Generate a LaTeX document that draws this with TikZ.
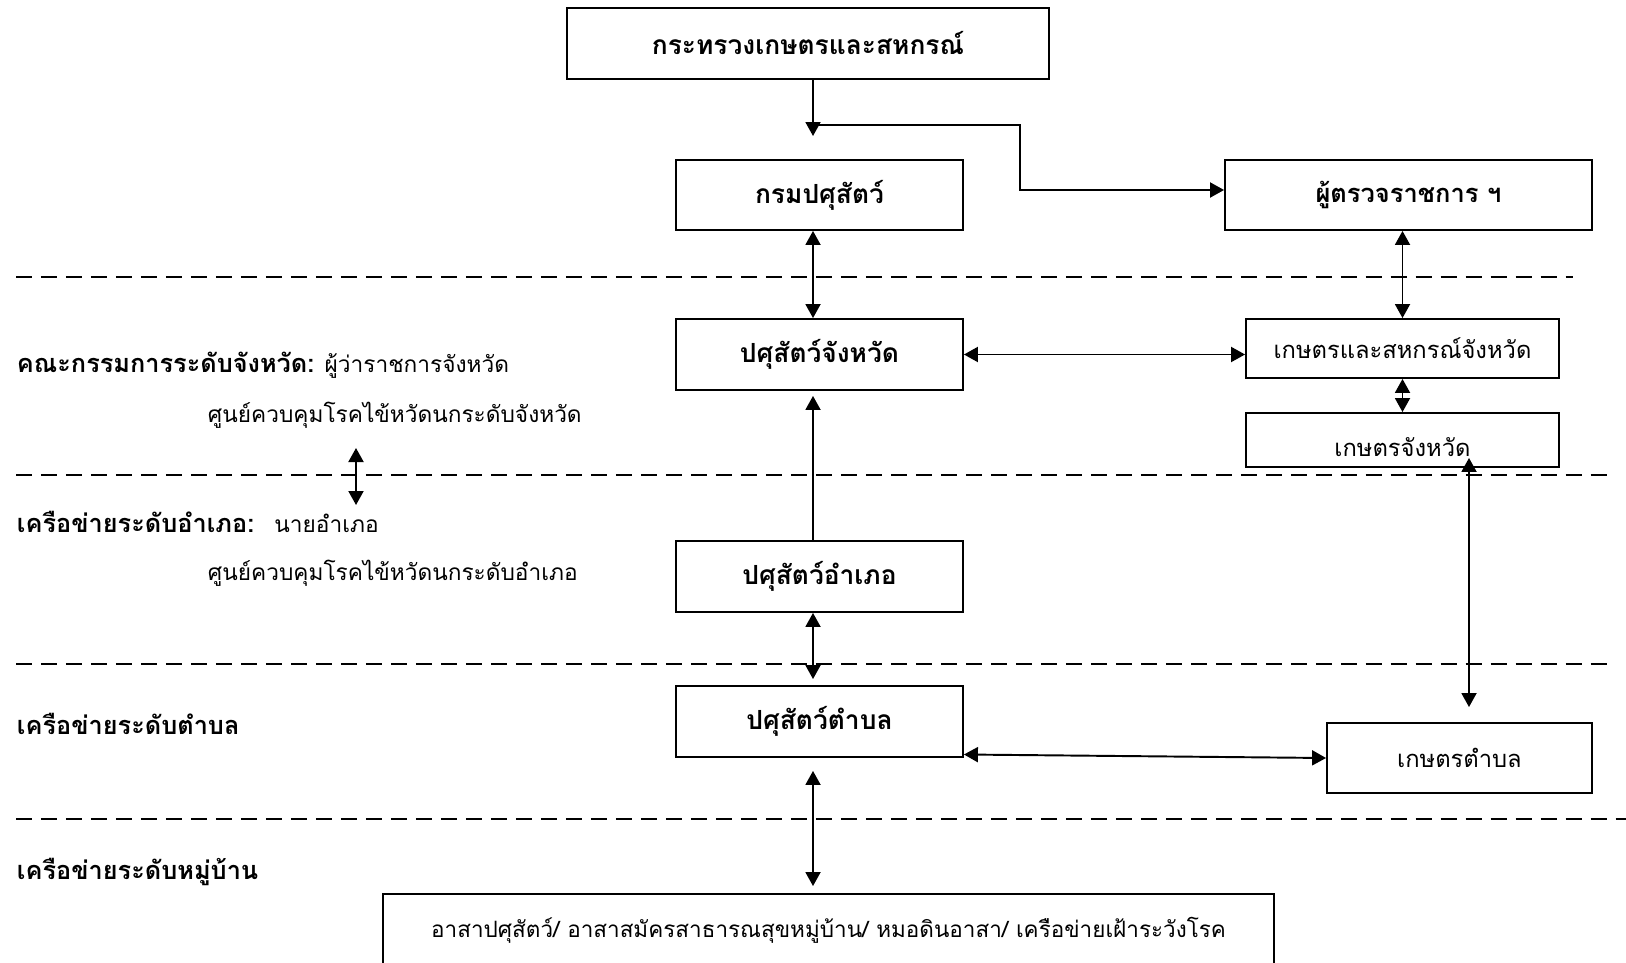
\documentclass[tikz,border=0pt]{standalone}
\usepackage{fontspec}
\setmainfont{Loma}[Script=Thai]
\usetikzlibrary{arrows.meta}
\newcommand\lvlbf[1]{{\fontsize{14.4}{17}\selectfont\bfseries #1}}

\begin{document}
\begin{tikzpicture}[x=0.02cm, y=-0.02cm, line width=1.1pt,
  >={Triangle[length=2.8mm,width=3mm]},
  box/.style={draw, inner sep=0pt, font=\fontsize{15}{18}\selectfont\bfseries},
  plainbox/.style={box, font=\fontsize{13.5}{16}\selectfont},
  level/.style={anchor=west, inner sep=0pt, font=\fontsize{12.9}{16}\selectfont},
  sep/.style={dash pattern=on 3.2mm off 1.8mm}]
\useasboundingbox (0,0) rectangle (1626,963);

\foreach \y/\e in {277/1573, 475/1613, 664/1613, 819/1626}
  \draw[sep] (16,\y) -- (\e,\y);

\node[box, minimum width=9.64cm, minimum height=1.42cm] (ministry) at (808,43.5) {กระทรวงเกษตรและสหกรณ์};
\node[box, minimum width=5.74cm, minimum height=1.40cm] (dld) at (819.5,195) {กรมปศุสัตว์};
\node[box, minimum width=7.34cm, minimum height=1.40cm, font=\fontsize{14.5}{18}\selectfont\bfseries] (inspector) at (1408.5,195) {ผู้ตรวจราชการ ฯ};
\node[box, minimum width=5.74cm, minimum height=1.42cm] (provLive) at (819.5,354.5) {ปศุสัตว์จังหวัด};
\node[plainbox, minimum width=6.26cm, minimum height=1.18cm] (provAgri) at (1402.5,348.5) {เกษตรและสหกรณ์จังหวัด};
\node[plainbox, minimum width=6.26cm, minimum height=1.08cm] (provFarm) at (1402.5,440) {\raisebox{-0.14cm}[\height][\depth]{เกษตรจังหวัด}};
\node[box, minimum width=5.74cm, minimum height=1.42cm] (distLive) at (819.5,576.5) {ปศุสัตว์อำเภอ};
\node[box, minimum width=5.74cm, minimum height=1.42cm] (subLive) at (819.5,721.5) {ปศุสัตว์ตำบล};
\node[plainbox, minimum width=5.30cm, minimum height=1.40cm] (subFarm) at (1459.5,758) {เกษตรตำบล};
\node[plainbox, minimum width=17.82cm, minimum height=1.6cm, font=\fontsize{12.8}{16}\selectfont] (village) at (828.5,934) {\raisebox{0.08cm}[\height][\depth]{อาสาปศุสัตว์/ อาสาสมัครสาธารณสุขหมู่บ้าน/ หมอดินอาสา/ เครือข่ายเฝ้าระวังโรค}};

\node[level] (lvlProv) at (16,365) {\lvlbf{คณะกรรมการระดับจังหวัด:} ผู้ว่าราชการจังหวัด};
\node[level] (lvlProvB) at (207,415) {ศูนย์ควบคุมโรคไข้หวัดนกระดับจังหวัด};
\node[level] (lvlDist) at (16,522) {\lvlbf{เครือข่ายระดับอำเภอ:}\hspace{0.2cm} นายอำเภอ};
\node[level] (lvlDistB) at (207,573) {ศูนย์ควบคุมโรคไข้หวัดนกระดับอำเภอ};
\node[level] (lvlSub) at (16,724) {\lvlbf{เครือข่ายระดับตำบล}};
\node[level] (lvlVil) at (16,872) {\lvlbf{เครือข่ายระดับหมู่บ้าน}};

\coordinate (split) at (813,125);
\coordinate (splitEnd) at (813,136);
\coordinate (bend) at (1020,190);
\coordinate (farmLine) at (1469,0);
\coordinate (lvlA) at (356,448);
\coordinate (lvlB) at (356,505);

\draw[->] (ministry.south -| split) -- (splitEnd);
\draw[->] (split) -| (bend) -- (bend -| inspector.west);
\draw[<->] (dld.south -| split) -- (provLive.north -| split);
\draw[<->] (inspector.south -| provAgri.north) -- (provAgri.north);
\draw[<->] (provLive.east) -- (provLive.east -| provAgri.west);
\draw[<->] (provAgri.south) -- (provFarm.north);
\draw[<->, shorten <=-0.2cm, shorten >=0.3cm] (provFarm.south -| farmLine) -- (subFarm.north -| farmLine);
\draw[->, shorten >=0.1cm] (distLive.north -| split) -- (provLive.south -| split);
\draw[<->, shorten >=0.12cm] (distLive.south -| split) -- (subLive.north -| split);
\draw[<->] ([yshift=-0.66cm]subLive.east) -- (subFarm.west);
\draw[<->, shorten <=0.26cm, shorten >=0.14cm] (subLive.south -| split) -- (village.north -| split);
\draw[<->] (lvlA) -- (lvlB);
\end{tikzpicture}
\end{document}
